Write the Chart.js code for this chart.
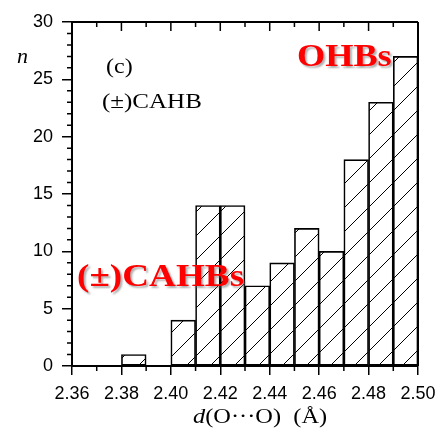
<!DOCTYPE html>
<html>
<head>
<meta charset="utf-8">
<script src="https://cdn.jsdelivr.net/npm/chart.js@4.4.0/dist/chart.umd.min.js"></script>
<style>
  html, body { margin: 0; padding: 0; background: #fff; }
  canvas { display: block; }
</style>
</head>
<body>
<canvas id="hist" width="439" height="433"></canvas>
<script>
// histogram bins (left edge, width 0.01) and counts
const binStart = [2.38, 2.40, 2.41, 2.42, 2.43, 2.44, 2.45, 2.46, 2.47, 2.48, 2.49];
const counts = [1, 4, 14, 14, 7, 9, 12, 10, 18, 23, 27];
const binWidth = 0.01;

const xTickValues = [2.36, 2.38, 2.40, 2.42, 2.44, 2.46, 2.48, 2.50];
const xMinorValues = [2.37, 2.39, 2.41, 2.43, 2.45, 2.47, 2.49];
const yTickValues = [0, 5, 10, 15, 20, 25, 30];

const SERIF = '"Liberation Serif", "Times New Roman", serif';
const SANS = '"Liberation Sans", Arial, sans-serif';

function makeHatch() {
    const s = 24;
    const c = document.createElement('canvas');
    c.width = s; c.height = s;
    const g = c.getContext('2d');
    g.strokeStyle = '#000';
    g.lineWidth = 1;
    g.beginPath();
    g.moveTo(0, s); g.lineTo(s, 0);
    g.moveTo(-2, 2); g.lineTo(2, -2);
    g.moveTo(s - 2, s + 2); g.lineTo(s + 2, s - 2);
    g.stroke();
    return g.createPattern(c, 'repeat');
}

// mixed-font text with a horizontal stretch
function drawParts(ctx, parts, x, y, sx) {
    ctx.save();
    ctx.translate(x, y);
    ctx.scale(sx, 1);
    ctx.textAlign = 'left';
    ctx.textBaseline = 'alphabetic';
    let cx = 0;
    parts.forEach(([text, font]) => {
        ctx.font = font;
        ctx.fillText(text, cx, 0);
        cx += ctx.measureText(text).width;
    });
    ctx.restore();
}

const framePlugin = {
    id: 'frame',
    afterDraw(chart) {
        const { ctx, chartArea: a, scales: { x, y } } = chart;
        ctx.save();
        ctx.strokeStyle = '#000';

        // top and right frame lines
        ctx.lineWidth = 2;
        ctx.beginPath();
        ctx.moveTo(a.left, a.top); ctx.lineTo(a.right, a.top);
        ctx.moveTo(a.right, a.top); ctx.lineTo(a.right, a.bottom);
        ctx.stroke();

        ctx.lineWidth = 1.5;
        ctx.beginPath();
        // top ticks, pointing in
        xTickValues.concat(xMinorValues).forEach(v => {
            const px = x.getPixelForValue(v);
            const len = xTickValues.includes(v) ? 9 : 5;
            ctx.moveTo(px, a.top); ctx.lineTo(px, a.top + len);
        });
        // bottom minor ticks, pointing out
        xMinorValues.forEach(v => {
            const px = x.getPixelForValue(v);
            ctx.moveTo(px, a.bottom); ctx.lineTo(px, a.bottom + 5);
        });
        // y minor ticks
        for (let v = 0; v <= 30; v++) {
            if (v % 5 === 0) continue;
            const py = y.getPixelForValue(v);
            ctx.moveTo(a.left - 5, py); ctx.lineTo(a.left, py);
        }
        ctx.stroke();

        // labels
        ctx.fillStyle = '#000';
        drawParts(ctx, [['n', 'italic 20px ' + SERIF]], 17, 63, 1.1);
        drawParts(ctx, [['(c)', '20px ' + SERIF]], 106, 73, 1.2);
        drawParts(ctx, [['(\u00B1)CAHB', '20px ' + SERIF]], 102, 108, 1.25);
        drawParts(ctx, [['d', 'italic 20px ' + SERIF], ['(O\u00B7\u00B7\u00B7O)  (\u00C5)', '20px ' + SERIF]], 193, 423, 1.22);

        ctx.shadowColor = 'rgba(110,110,110,0.55)';
        ctx.shadowOffsetX = 2;
        ctx.shadowOffsetY = 2;
        ctx.shadowBlur = 2;
        ctx.fillStyle = '#ff0000';
        drawParts(ctx, [['OHBs', 'bold 31px ' + SERIF]], 297, 66, 1.17);
        drawParts(ctx, [['(\u00B1)CAHBs', 'bold 31px ' + SERIF]], 77, 286, 1.2);
        ctx.restore();
    }
};

new Chart(document.getElementById('hist').getContext('2d'), {
    type: 'bar',
    data: {
        datasets: [{
            data: binStart.map((b, i) => ({ x: b + binWidth / 2, y: counts[i] })),
            backgroundColor: makeHatch(),
            borderColor: '#000',
            borderWidth: 1,
            borderSkipped: false,
            barPercentage: 1,
            categoryPercentage: 1
        }]
    },
    options: {
        responsive: false,
        animation: false,
        layout: { padding: { top: 22, right: 21, left: 0, bottom: 0 } },
        plugins: { legend: { display: false }, tooltip: { enabled: false } },
        scales: {
            x: {
                type: 'linear',
                offset: false,
                min: 2.36,
                max: 2.50,
                afterBuildTicks: s => { s.ticks = xTickValues.map(v => ({ value: v })); },
                afterFit: s => { s.height = 67; s.paddingRight = 0; s.paddingLeft = 0; },
                ticks: {
                    callback: v => v.toFixed(2),
                    color: '#000',
                    font: { family: SANS, size: 18 },
                    padding: 8,
                    maxRotation: 0,
                    autoSkip: false
                },
                grid: { offset: false, drawOnChartArea: false, tickLength: 9, color: '#000', lineWidth: 1.5 },
                border: { display: true, color: '#000', width: 2 }
            },
            y: {
                min: 0,
                max: 30,
                afterBuildTicks: s => { s.ticks = yTickValues.map(v => ({ value: v })); },
                afterFit: s => { s.width = 72; },
                ticks: {
                    color: '#000',
                    font: { family: SANS, size: 18 },
                    padding: 9
                },
                grid: { drawOnChartArea: false, tickLength: 10, color: '#000', lineWidth: 1.5 },
                border: { display: true, color: '#000', width: 2 }
            }
        }
    },
    plugins: [framePlugin]
});
</script>
</body>
</html>
